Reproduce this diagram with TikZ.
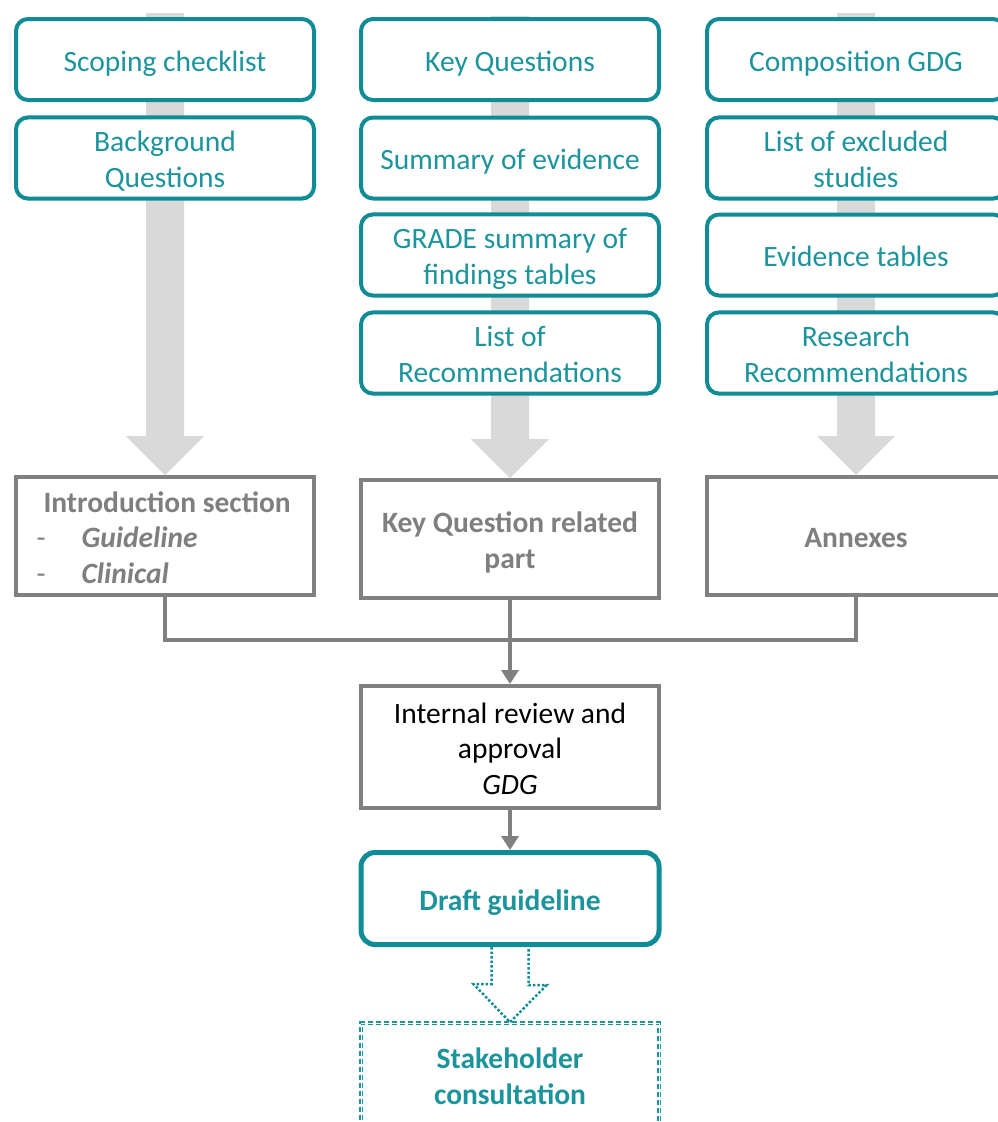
\documentclass[tikz,border=0pt]{standalone}
\usepackage{fontspec}
\setmainfont{Carlito}
\usetikzlibrary{arrows.meta,calc}

\definecolor{tealline}{RGB}{16,140,150}
\definecolor{tealtext}{RGB}{28,148,156}
\definecolor{tealdash}{RGB}{30,148,156}
\definecolor{greyline}{RGB}{128,128,128}
\definecolor{greytext}{RGB}{127,127,127}
\definecolor{feedgrey}{RGB}{217,217,217}

% wide grey arrow running behind a column of boxes down to its target
\newcommand{\feedarrow}[1]{%
  \fill[feedgrey] (#1.north) -- ++(-39,-39) -- ++(20,0) -- ++(0,-423)
    -- ++(38,0) -- ++(0,423) -- ++(20,0) -- cycle;}
% fixed height for the first line of a multi-line label
\newcommand{\topstrut}{\rule{0pt}{31pt}}

\tikzset{
  % fixed line box so every label sits at the same height in its frame
  txt/.style={font=\fontsize{29.5}{35.5}\selectfont,
    execute at begin node={\rule{0pt}{31pt}},
    execute at end node={\rule[-8pt]{0pt}{8pt}}},
  tealbox/.style={txt, draw=tealline, line width=4, rounded corners=12,
    fill=white, text=tealtext, align=center, minimum width=298, minimum height=81},
  greybox/.style={txt, draw=greyline, line width=4, fill=white,
    text=greytext, align=center, minimum width=298, minimum height=118,
    font=\fontsize{29.5}{35.5}\selectfont\bfseries},
  plainbox/.style={txt, draw=greyline, line width=4, fill=white,
    align=center, minimum width=298, minimum height=122},
  conn/.style={draw=greyline, line width=4},
  connarrow/.style={conn, -{Triangle[length=14,width=17]}},
  dotarrow/.style={draw=tealline, line width=2.5, dotted},
  dashbox/.style={txt, draw=tealdash, line width=1.6, double=white,
    double distance=0.9, dash pattern=on 5 off 3, fill=white,
    text=tealtext, align=center, minimum width=298, minimum height=104,
    font=\fontsize{29.5}{35.5}\selectfont\bfseries},
}

\begin{document}
\begin{tikzpicture}[x=1pt, y=-1pt]
\useasboundingbox (0,0) rectangle (998,1122);
\clip (0,0) rectangle (998,1122);
\fill[white] (0,0) rectangle (998,1122);

% target boxes (drawn first so the arrows can refer to them)
\node[greybox] (intro) at (165,536) {};
\node[greybox] (kqpart) at (510,539) {\topstrut Key Question related\\part};
\node[greybox] (annex) at (856,536) {Annexes};

% grey feed arrows behind the columns
\feedarrow{intro}
\feedarrow{kqpart}
\feedarrow{annex}

% left column
\node[tealbox] (scope) at (165,59.5) {Scoping checklist};
\node[tealbox] (bgq) at (165,158) {\topstrut Background\\Questions};

% middle column
\node[tealbox] (kq) at (510,59.5) {Key Questions};
\node[tealbox] (soe) at (510,158) {Summary of evidence};
\node[tealbox] (grade) at (510,255) {\topstrut GRADE summary of\\findings tables};
\node[tealbox] (recs) at (510,353) {\topstrut List of\\Recommendations};

% right column
\node[tealbox] (gdg) at (856,59.5) {Composition GDG};
\node[tealbox] (excl) at (856,158) {\topstrut List of excluded\\studies};
\node[tealbox] (evid) at (856,255) {Evidence tables};
\node[tealbox] (rrec) at (856,353) {\topstrut Research\\Recommendations};

% introduction section contents
\node[txt, text=greytext, anchor=west, align=left, font=\fontsize{29.5}{35.5}\selectfont\bfseries]
  (introtext) at (33,536)
  {\topstrut\hspace*{7pt}Introduction section\\
   \makebox[45pt][l]{\mdseries -}\textit{Guideline}\\
   \makebox[45pt][l]{\mdseries -}\textit{Clinical}};

% review and drafting steps
\node[plainbox] (review) at (510,747) {\topstrut Internal review and\\approval\\\textit{GDG}};
\node[tealbox, line width=5, rounded corners=14, minimum height=92,
  font=\fontsize{29.5}{35.5}\selectfont\bfseries] (draft) at (510,898.5) {Draft guideline};
\node[dashbox] (stake) at (510,1075) {\topstrut Stakeholder\\consultation};

% merging connectors
\coordinate (bus) at (510,640);
\draw[conn] (intro.south) |- (bus) -| (annex.south);
\draw[connarrow] (kqpart.south) -- (review.north);
\draw[connarrow] (review.south) -- (draft.north);

% open dotted arrow to the consultation step
\draw[dotarrow] ($(draft.south)+(-18.5,0)$) -- ++(0,37) -- ++(-18,0)
  -- (stake.north) -- ++(36.5,-37) -- ++(-18,0) -- ++(0,-37);
\end{tikzpicture}
\end{document}
